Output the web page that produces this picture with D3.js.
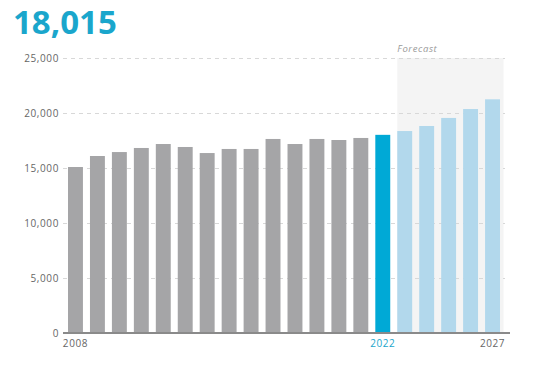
<!DOCTYPE html>
<html><head><meta charset="utf-8">
<script src="https://cdn.jsdelivr.net/npm/d3@7"></script>
<style>body{margin:0;background:#fff;} svg{display:block;}</style>
</head><body>
<svg id="c" width="534" height="365"></svg>
<script>
const years = [2008,2009,2010,2011,2012,2013,2014,2015,2016,2017,2018,2019,2020,2021,2022,2023,2024,2025,2026,2027];
const values = [15090,16090,16450,16820,17180,16910,16360,16730,16730,17640,17180,17640,17545,17730,18015,18360,18820,19550,20360,21245];
const yTicks = [0,5000,10000,15000,20000,25000];
const xLabels = [2008,2022,2027];
const currentYear = 2022;
const headline = "18,015";
const forecastLabel = "Forecast";

const svg = d3.select("#c");
const x = d3.scaleBand().domain(years).range([64.5,503.5]).paddingInner(0.32).paddingOuter(0.16);
const y = d3.scaleLinear().domain([0,25000]).range([333,58]);

svg.append("text").attr("x",13).attr("y",34).text(headline)
  .attr("font-family","Open Sans, sans-serif").attr("font-weight","bold").attr("font-size",33)
  .attr("fill","#1aa6cc");

// forecast band
svg.append("rect").attr("x",x(2023)).attr("y",y(25000)).attr("width",503.5-x(2023)).attr("height",y(0)-y(25000)).attr("fill","#f4f4f4");
svg.append("text").attr("x",x(2023)).attr("y",52).text(forecastLabel)
  .attr("font-family","Open Sans, sans-serif").attr("font-style","italic").attr("font-size",9.5)
  .attr("letter-spacing",0.6).attr("fill","#999");

const yAxis = d3.axisLeft(y).tickValues(yTicks).tickSize(-442).tickFormat(d3.format(","));
const ga = svg.append("g").attr("transform","translate(63,0)").call(yAxis);
ga.select(".domain").remove();
ga.selectAll(".tick line").attr("stroke","#d8d8d8").attr("stroke-dasharray","4,4");
ga.selectAll(".tick text").attr("x",-4).attr("fill","#666").attr("font-family","Open Sans, sans-serif")
  .attr("font-size",10).attr("letter-spacing",0.6);

svg.append("g").selectAll("rect").data(years).join("rect")
  .attr("x",d=>x(d)).attr("width",x.bandwidth())
  .attr("y",(d,i)=>y(values[i])).attr("height",(d,i)=>y(0)-y(values[i]))
  .attr("fill",d=>d<currentYear?"#a5a5a7":(d===currentYear?"#00a9d6":"#b2d8ec"));

svg.append("line").attr("x1",63).attr("x2",510).attr("y1",333).attr("y2",333).attr("stroke","#8a8a8a").attr("stroke-width",2);

const xAxis = d3.axisBottom(x).tickValues(xLabels).tickSize(0).tickPadding(6);
const gx = svg.append("g").attr("transform","translate(0,334)").call(xAxis);
gx.select(".domain").remove();
gx.selectAll(".tick text").attr("font-family","Open Sans, sans-serif").attr("font-size",10).attr("letter-spacing",0.6)
  .attr("fill",d=>d===currentYear?"#1aa6cc":"#666");
</script>
</body></html>
